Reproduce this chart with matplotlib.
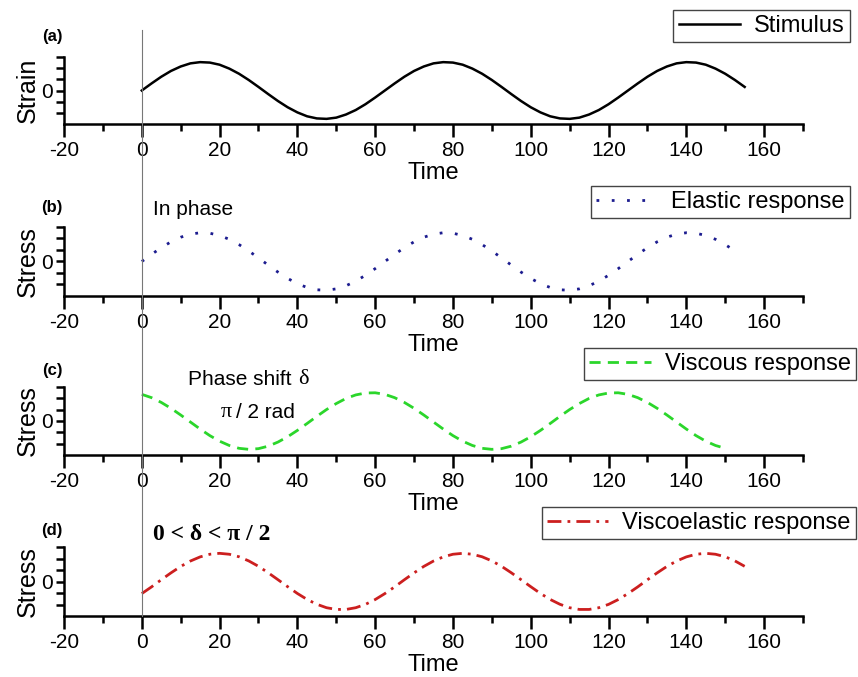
import matplotlib
matplotlib.use("Agg")
import matplotlib.pyplot as plt
from matplotlib.lines import Line2D
from matplotlib.ticker import MultipleLocator, FixedLocator
from matplotlib.transforms import blended_transform_factory

plt.rcParams["font.family"] = ["Liberation Sans", "DejaVu Sans"]
plt.rcParams["axes.unicode_minus"] = False

# time grid (step 2.5)
time = [0, 2.5, 5, 7.5, 10, 12.5, 15, 17.5, 20, 22.5, 25, 27.5, 30, 32.5, 35,
        37.5, 40, 42.5, 45, 47.5, 50, 52.5, 55, 57.5, 60, 62.5, 65, 67.5, 70,
        72.5, 75, 77.5, 80, 82.5, 85, 87.5, 90, 92.5, 95, 97.5, 100, 102.5, 105,
        107.5, 110, 112.5, 115, 117.5, 120, 122.5, 125, 127.5, 130, 132.5, 135,
        137.5, 140, 142.5, 145, 147.5, 150, 152.5, 155]

stimulus = [0, 0.63, 1.23, 1.75, 2.15, 2.43, 2.54, 2.50, 2.31, 1.96, 1.50, 0.94, 0.32,
            -0.32, -0.94, -1.50, -1.96, -2.31, -2.50, -2.54, -2.43, -2.15, -1.75, -1.23, -0.63,
            0, 0.63, 1.23, 1.75, 2.15, 2.43, 2.54, 2.50, 2.31, 1.96, 1.50, 0.94, 0.32,
            -0.32, -0.94, -1.50, -1.96, -2.31, -2.50, -2.54, -2.43, -2.15, -1.75, -1.23, -0.63,
            0, 0.63, 1.23, 1.75, 2.15, 2.43, 2.54, 2.50, 2.31, 1.96, 1.50, 0.94, 0.32]

elastic = [0, 0.62, 1.20, 1.71, 2.11, 2.38, 2.50, 2.46, 2.26, 1.93, 1.47, 0.92, 0.31,
           -0.31, -0.92, -1.47, -1.93, -2.26, -2.46, -2.50, -2.38, -2.11, -1.71, -1.20, -0.62,
           0, 0.62, 1.20, 1.71, 2.11, 2.38, 2.50, 2.46, 2.26, 1.93, 1.47, 0.92, 0.31,
           -0.31, -0.92, -1.47, -1.93, -2.26, -2.46, -2.50, -2.38, -2.11, -1.71, -1.20, -0.62,
           0, 0.62, 1.20, 1.71, 2.11, 2.38, 2.50, 2.46, 2.26, 1.93, 1.47, 0.92]

viscous = [2.35, 2.06, 1.64, 1.12, 0.53, -0.09, -0.71, -1.29, -1.78, -2.16, -2.41, -2.50,
           -2.44, -2.22, -1.86, -1.39, -0.83, -0.22, 0.41, 1.01, 1.54, 1.99, 2.30, 2.47, 2.49,
           2.35, 2.06, 1.64, 1.12, 0.53, -0.09, -0.71, -1.29, -1.78, -2.16, -2.41, -2.50,
           -2.44, -2.22, -1.86, -1.39, -0.83, -0.22, 0.41, 1.01, 1.54, 1.99, 2.30, 2.47, 2.49,
           2.35, 2.06, 1.64, 1.12, 0.53, -0.09, -0.71, -1.29, -1.78, -2.16, -2.41]

viscoelastic = [-1.05, -0.47, 0.15, 0.75, 1.31, 1.78, 2.14, 2.37, 2.45, 2.37, 2.15, 1.79,
                1.32, 0.76, 0.16, -0.45, -1.04, -1.56, -1.98, -2.28, -2.43, -2.43, -2.28,
                -1.99, -1.57,
                -1.05, -0.47, 0.15, 0.75, 1.31, 1.78, 2.14, 2.37, 2.45, 2.37, 2.15, 1.79,
                1.32, 0.76, 0.16, -0.45, -1.04, -1.56, -1.98, -2.28, -2.43, -2.43, -2.28,
                -1.99, -1.57,
                -1.05, -0.47, 0.15, 0.75, 1.31, 1.78, 2.14, 2.37, 2.45, 2.37, 2.15, 1.79, 1.32]

series = [
    ("Strain", stimulus, "Stimulus", "#000000", "-", "(a)"),
    ("Stress", elastic, "Elastic response", "#1c1c8f", (0, (1, 4.5)), "(b)"),
    ("Stress", viscous, "Viscous response", "#2bd62b", (0, (4, 2.6)), "(c)"),
    ("Stress", viscoelastic, "Viscoelastic response", "#cc1f1f", (0, (5, 2.2, 1, 2.2)), "(d)"),
]

W, H = 858, 677
fig = plt.figure(figsize=(W / 100, H / 100), dpi=100)

# axes boxes in pixels: (top, bottom) of each panel
panel_px = [(57, 124), (227, 296), (387, 455), (547, 616)]
legend_px = [(850, 10), (850, 186), (856, 348), (856, 507)]
tag_px = [36, 207, 370, 531]

axes = []
for (ylab, vals, name, col, ls, tag), (top, bot), (lx, ly), ty in zip(
        series, panel_px, legend_px, tag_px):
    ax = fig.add_axes([64 / W, 1 - bot / H, (803 - 64) / W, (bot - top) / H])
    lw = 1.8 if ls == "-" else 2.0
    ax.plot(time[:len(vals)], vals, color=col, linestyle=ls, lw=lw,
            dash_capstyle="butt", label=name)
    ax.set_xlim(-20, 170)
    ax.set_ylim(-3, 3)
    for s in ("top", "right"):
        ax.spines[s].set_visible(False)
    for s in ("left", "bottom"):
        ax.spines[s].set_linewidth(1.8)
    ax.xaxis.set_major_locator(MultipleLocator(20))
    ax.xaxis.set_minor_locator(MultipleLocator(10))
    ax.yaxis.set_major_locator(FixedLocator([0]))
    ax.yaxis.set_minor_locator(FixedLocator([-2, -1, 1, 2, 3]))
    ax.tick_params(axis="x", which="major", length=9, width=1.8, labelsize=15, pad=3)
    ax.tick_params(axis="x", which="minor", length=5, width=1.8)
    ax.tick_params(axis="y", which="both", length=6, width=1.8, labelsize=15, pad=2)
    ax.set_xlabel("Time", fontsize=17, labelpad=2)
    ax.set_ylabel(ylab, fontsize=18, labelpad=1)
    ax.legend(loc="upper right", bbox_to_anchor=(lx / W, 1 - ly / H),
              bbox_transform=fig.transFigure, borderaxespad=0, fontsize=17,
              frameon=True, fancybox=False, edgecolor="#444444", framealpha=1,
              handlelength=2.6, handletextpad=0.6, borderpad=0.22)
    ax.get_legend().get_frame().set_linewidth(1.0)
    fig.text(52 / W, 1 - ty / H, tag, fontsize=12, fontweight="bold",
             ha="center", va="center")
    axes.append(ax)

# thin grey reference line at t = 0 through all panels
tr = blended_transform_factory(axes[-1].transData, fig.transFigure)
fig.add_artist(Line2D([0, 0], [1 - 616 / H, 1 - 30 / H], transform=tr,
                      color="#777777", lw=0.8))

fig.text(153 / W, 1 - 209 / H, "In phase", fontsize=15, ha="left", va="center")
fig.text(188 / W, 1 - 380 / H, "Phase shift", fontsize=15, ha="left", va="center")
fig.text(298 / W, 1 - 380 / H, "δ", fontsize=16, ha="left", va="center",
         family="Liberation Serif")
fig.text(221 / W, 1 - 412 / H, "π", fontsize=16, ha="left", va="center",
         family="Liberation Serif")
fig.text(236 / W, 1 - 412 / H, "/ 2 rad", fontsize=15, ha="left", va="center")
fig.text(153 / W, 1 - 535 / H, "0 < δ < π / 2", fontsize=17, ha="left", va="center",
         family="Liberation Serif", fontweight="bold")

fig.savefig("out.png", dpi=100)
